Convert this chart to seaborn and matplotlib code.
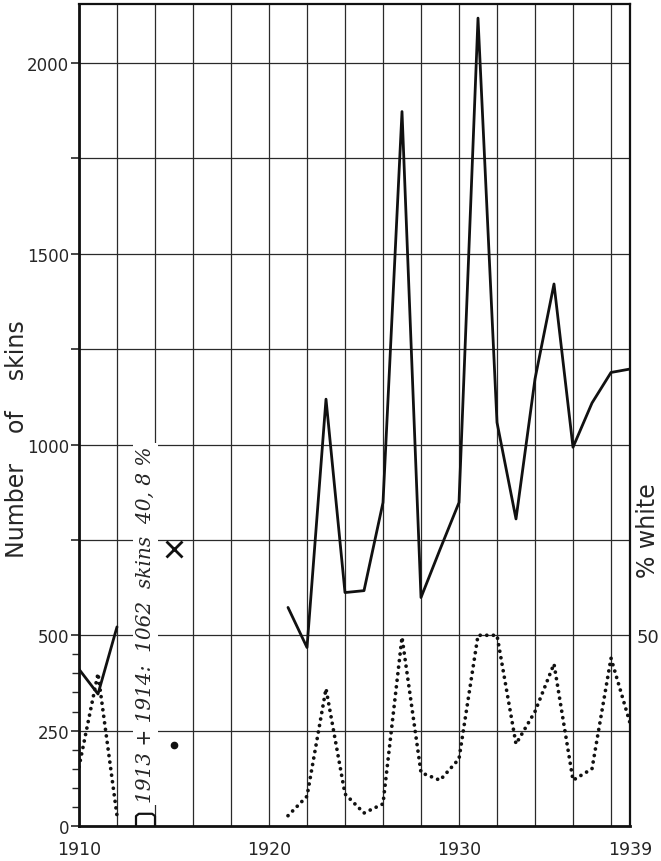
import numpy as np
import pandas as pd
import matplotlib
matplotlib.use("Agg")
import matplotlib.pyplot as plt
import seaborn as sns

# number of skins per year (solid line), two separate runs of records
skin_years = [1910, 1911, 1912,
              1921, 1922, 1923, 1924, 1925, 1926, 1927, 1928, 1929, 1930,
              1931, 1932, 1933, 1934, 1935, 1936, 1937, 1938, 1939]
skins = [411, 346, 522,
         573, 468, 1119, 612, 617, 848, 1873, 599, 725, 848,
         2118, 1058, 805, 1172, 1421, 993, 1109, 1189, 1198]
skin_run = ["a", "a", "a"] + ["b"] * 19

# percent white (dotted line), plotted on skins scale with 50 % = 500 skins
white_years = [1910, 1911, 1912,
               1921, 1922, 1923, 1924, 1925, 1926, 1927, 1928, 1929, 1930,
               1931, 1932, 1933, 1934, 1935, 1936, 1937, 1938, 1939]
pct_white = [15.5, 40, 2.7,
             2.7, 7.8, 36, 8.4, 3.4, 5.8, 49.5, 14, 12, 17.6,
             50, 50, 21.5, 30, 42.5, 12, 15, 44, 27]
white_run = ["a", "a", "a"] + ["b"] * 19

# 1915 single values
single_year = 1915
single_skins = 726
single_pct = 21.3

note_years = (1913, 1914)
note_text = "1913 + 1914:  1062  skins  40, 8 %"

x_labels = [1910, 1920, 1930, 1939]
y_labels = [0, 250, 500, 1000, 1500, 2000]
pct_scale = 10.0   # skins units per percent

df_skins = pd.DataFrame({"year": skin_years, "skins": skins, "run": skin_run})
df_white = pd.DataFrame({"year": white_years,
                         "val": np.array(pct_white) * pct_scale,
                         "run": white_run})

sns.set_style("white")
plt.rcParams["font.family"] = ["DejaVu Sans"]

fig = plt.figure(figsize=(6.61, 8.62), dpi=100)
ax = fig.add_axes([79 / 661, 35 / 862, 551 / 661, 822 / 862])

ymax = 2155
ax.set_xlim(1910, 1939)
ax.set_ylim(0, ymax)

# grid
for yr in range(1910, 1939, 2):
    ax.axvline(yr, color="#2a2a2a", lw=0.9, zorder=1)
for v in np.arange(250, ymax, 250):
    ax.axhline(v, color="#2a2a2a", lw=0.9, zorder=1)

sns.lineplot(data=df_skins, x="year", y="skins", units="run", estimator=None,
             color="#111111", lw=2.0, ax=ax, zorder=3)
n_mid = len(ax.lines)
sns.lineplot(data=df_white, x="year", y="val", units="run", estimator=None,
             color="#111111", lw=2.7, ax=ax, zorder=3)
# make the percent series dotted
for ln in ax.lines[n_mid:]:
    ln.set_dashes((0.01, 1.75))
    ln.set_dash_capstyle("round")

ax.plot([single_year], [single_skins], marker="x", ms=11, mew=2.0,
        color="#111111", ls="none", zorder=4)
ax.plot([single_year], [single_pct * pct_scale], marker="o", ms=4.5,
        color="#111111", ls="none", zorder=4)

# bracket and note for 1913 + 1914
bx0, bx1 = note_years
ax.plot([bx0, bx0, bx0 + 0.15, bx1 - 0.15, bx1, bx1], [0, 26, 32, 32, 26, 0],
        color="#111111", lw=1.6, solid_joinstyle="round", zorder=6)
ax.text((bx0 + bx1) / 2, 530, note_text, rotation=90, ha="center",
        va="center", fontsize=14.5, style="italic", family="DejaVu Serif",
        zorder=5,
        bbox=dict(facecolor="white", edgecolor="none", pad=2.0))

ax.set_xticks(x_labels)
ax.set_xticklabels([str(v) for v in x_labels])
major = np.arange(0, ymax, 250)
ax.set_yticks(major)
ax.set_yticklabels([str(int(v)) if v in y_labels else "" for v in major])
ax.set_yticks(np.arange(50, 500, 50), minor=True)
ax.tick_params(axis="x", length=0, pad=10, labelsize=12.5)
ax.tick_params(axis="y", which="major", length=6, width=1.2, pad=1,
               labelsize=12, direction="out", left=True)
ax.tick_params(axis="y", which="minor", length=5, width=1.0, left=True,
               direction="out")
ax.set_xlabel("")
ax.set_ylabel("")

for side in ["left", "bottom"]:
    ax.spines[side].set_linewidth(2.0)
for side in ["top", "right"]:
    ax.spines[side].set_linewidth(1.6)
for s in ax.spines.values():
    s.set_color("#111111")
    s.set_visible(True)

ax2 = ax.twinx()
ax2.set_ylim(0, ymax / pct_scale)
ax2.set_yticks([50])
ax2.set_yticklabels(["50"])
ax2.tick_params(axis="y", length=0, pad=5, labelsize=13)
for s in ax2.spines.values():
    s.set_visible(False)

fig.text(0.026, 0.49, "Number    of    skins", rotation=90, ha="center",
         va="center", fontsize=17)
fig.text(0.980, 0.385, "% white", rotation=90, ha="center", va="center",
         fontsize=17)

fig.savefig("out.png", dpi=100)
